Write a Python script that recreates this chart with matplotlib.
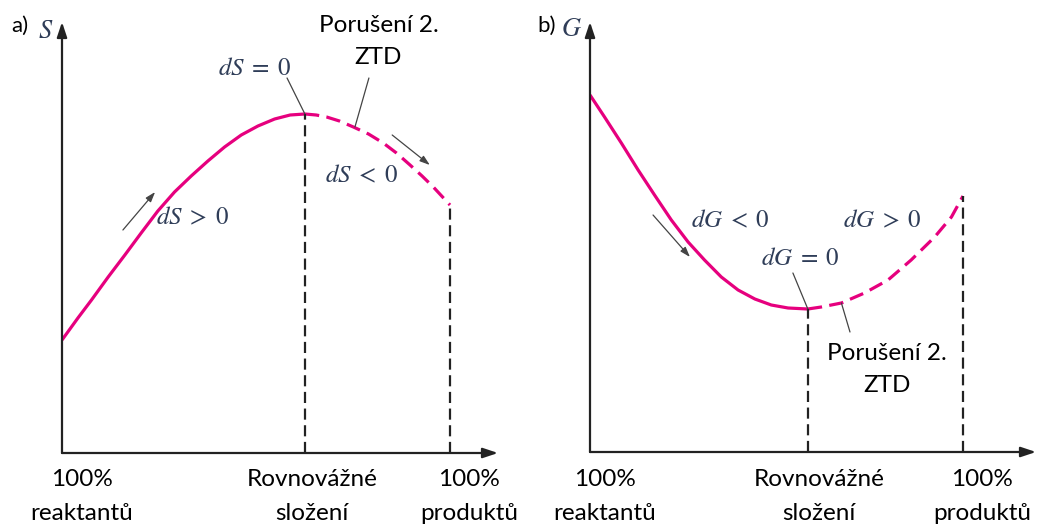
import matplotlib
matplotlib.use("Agg")
import matplotlib.pyplot as plt

# slozeni: 0 = 100 % reaktantu, 1 = 100 % produktu
rovnovaha_a = 0.626
rovnovaha_b = 0.584

# a) entropie S
s_x_plna = [0, 0.041, 0.076, 0.119, 0.162, 0.204, 0.247, 0.290, 0.333, 0.376,
            0.419, 0.462, 0.505, 0.548, 0.588, 0.626]
s_y_plna = [113, 135, 153, 176, 198, 220, 242, 261, 277, 292,
            306, 318, 327, 334, 338, 339]
s_x_carkovana = [0.626, 0.655, 0.682, 0.715, 0.751, 0.790, 0.828, 0.862, 0.897, 0.928, 0.957, 1.0]
s_y_carkovana = [339, 338, 336, 332, 326, 319, 310, 300, 288, 277, 266, 248]

# b) Gibbsova energie G
g_x_plna = [0, 0.039, 0.084, 0.129, 0.173, 0.218, 0.263, 0.307, 0.352, 0.397,
            0.442, 0.486, 0.531, 0.584]
g_y_plna = [357, 335, 309, 282, 257, 232, 210, 192, 175, 162,
            153, 147, 144, 143]
g_x_carkovana = [0.584, 0.620, 0.674, 0.736, 0.799, 0.861, 0.924, 0.969, 1.0]
g_y_carkovana = [143, 145, 149, 159, 172, 192, 215, 235, 256]

popisky_x = ["100%\nreaktantů", "Rovnovážné\nsložení", "100%\nproduktů"]

BARVA = "#e6007e"
MATH = "#2f3d58"
W, H = 1038, 527

plt.rcParams["font.family"] = ["Lato", "DejaVu Sans"]
plt.rcParams["mathtext.fontset"] = "stix"

fig = plt.figure(figsize=(W / 100, H / 100), dpi=100)


def px(x, y):
    return x / W, 1 - y / H


def text(x, y, s, size=17.5, color="black"):
    fig.text(*px(x, y), s, ha="center", va="center", fontsize=size, color=color)


def osy(ax):
    for sp in ax.spines.values():
        sp.set_visible(False)
    ax.set_xticks([])
    ax.set_yticks([])
    ax.patch.set_alpha(0)
    kw = dict(arrowstyle="-|>,head_length=0.9,head_width=0.3", lw=1.6, color="#222222",
              shrinkA=0, shrinkB=0)
    ax.annotate("", xy=(1, 0), xytext=(0, 0), xycoords="axes fraction", arrowprops=kw)
    ax.annotate("", xy=(0, 1), xytext=(0, 0), xycoords="axes fraction", arrowprops=kw)


def sipka(ax, p0, p1, hlava=True):
    st = "-|>,head_length=0.6,head_width=0.2" if hlava else "-"
    ax.annotate("", xy=p1, xytext=p0, annotation_clip=False,
                arrowprops=dict(arrowstyle=st, lw=0.9, color="#444444", shrinkA=0, shrinkB=0))


# ---- a) ----
ax1 = fig.add_axes([62 / W, 74 / H, 436 / W, 431 / H])
ax1.set_xlim(0, 436 / 388)
ax1.set_ylim(0, 431)
osy(ax1)
ax1.plot(s_x_plna, s_y_plna, color=BARVA, lw=2.3, solid_capstyle="butt", solid_joinstyle="round")
ax1.plot(s_x_carkovana, s_y_carkovana, color=BARVA, lw=2.3, linestyle=(0, (4.5, 2.3)))
ax1.vlines([rovnovaha_a], 0, s_y_plna[-1], colors="#222222", lw=1.6, linestyles=[(0, (5, 2.5))])
ax1.vlines([1.0], 0, s_y_carkovana[-1], colors="#222222", lw=1.6, linestyles=[(0, (5, 2.5))])
sipka(ax1, (0.157, 223), (0.240, 261))
sipka(ax1, (0.851, 318), (0.948, 288))
sipka(ax1, (0.580, 375), (rovnovaha_a, s_y_plna[-1]), hlava=False)
sipka(ax1, (0.791, 375), (0.755, 326), hlava=False)

# ---- b) ----
ax2 = fig.add_axes([590 / W, 75 / H, 446 / W, 430 / H])
ax2.set_xlim(0, 446 / 373)
ax2.set_ylim(0, 430)
osy(ax2)
ax2.plot(g_x_plna, g_y_plna, color=BARVA, lw=2.3, solid_capstyle="butt", solid_joinstyle="round")
ax2.plot(g_x_carkovana, g_y_carkovana, color=BARVA, lw=2.3, linestyle=(0, (4.5, 2.3)))
ax2.vlines([rovnovaha_b], 0, g_y_plna[-1], colors="#222222", lw=1.6, linestyles=[(0, (5, 2.5))])
ax2.vlines([1.0], 0, g_y_carkovana[-1], colors="#222222", lw=1.6, linestyles=[(0, (5, 2.5))])
sipka(ax2, (0.169, 237), (0.268, 195))
sipka(ax2, (0.544, 179), (rovnovaha_b, g_y_plna[-1]), hlava=False)
sipka(ax2, (0.697, 120), (0.674, 149), hlava=False)

# popisky
text(20, 26, "a)", 16)
text(46, 30, "$S$", 19, MATH)
text(547, 26, "b)", 16)
text(572, 28, "$G$", 19, MATH)

text(255, 67, r"$dS\;=\;0$", 18, MATH)
text(193, 217, r"$dS\;>\;0$", 18, MATH)
text(362, 175, r"$dS\;<\;0$", 18, MATH)
text(379, 25, "Porušení 2.")
text(378, 57, "ZTD")

text(730, 220, r"$dG\;<\;0$", 18, MATH)
text(882, 220, r"$dG\;>\;0$", 18, MATH)
text(800, 258, r"$dG\;=\;0$", 18, MATH)
text(887, 353, "Porušení 2.")
text(887, 385, "ZTD")

for sx, popisek in zip([82, 312, 469], popisky_x):
    a, b = popisek.split("\n")
    text(sx, 480, a)
    text(sx, 514, b)
for sx, popisek in zip([605, 819, 982], popisky_x):
    a, b = popisek.split("\n")
    text(sx, 480, a)
    text(sx, 514, b)

fig.savefig("out.png", dpi=100)
